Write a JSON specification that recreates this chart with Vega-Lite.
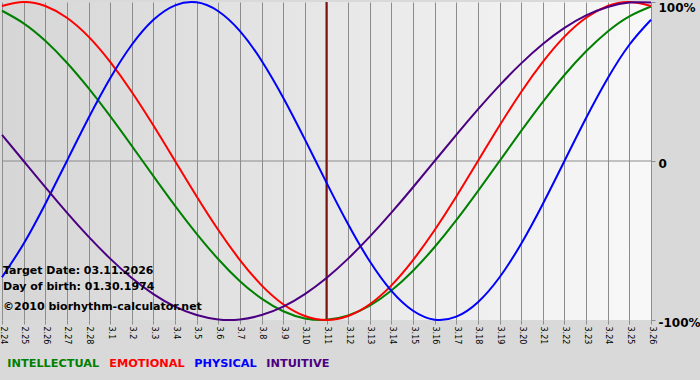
{
  "$schema": "https://vega.github.io/schema/vega-lite/v6.json",
  "width": 649,
  "height": 318,
  "autosize": {"type": "none"},
  "padding": {"left": 2, "top": 2, "right": 49, "bottom": 60},
  "background": "#d9d9d9",
  "view": {"stroke": null, "fill": {"gradient": "linear", "x1": 0, "y1": 0, "x2": 1, "y2": 0, "stops": [{"offset": 0, "color": "#d6d6d6"}, {"offset": 1, "color": "#f8f8f8"}]}},
  "config": {"font": "DejaVu Sans"},
  "layer": [
    {
      "data": {"values": [{}]},
      "mark": {"type": "rule", "color": "#8c8c8c", "strokeWidth": 1},
      "encoding": {"y": {"datum": 0, "type": "quantitative"}}
    },
    {
      "data": {"values": [{}]},
      "mark": {"type": "rule", "color": "#7a1212", "strokeWidth": 2},
      "encoding": {"x": {"datum": "3.11", "type": "ordinal"}}
    },
    {
      "data": {"values": [
        {"d":"2.24","s":"INTELLECTUAL","v":0.945},{"d":"2.24","s":"EMOTIONAL","v":0.975},{"d":"2.24","s":"PHYSICAL","v":-0.731},{"d":"2.24","s":"INTUITIVE","v":0.165},
        {"d":"2.25","s":"INTELLECTUAL","v":0.866},{"d":"2.25","s":"EMOTIONAL","v":1.0},{"d":"2.25","s":"PHYSICAL","v":-0.52},{"d":"2.25","s":"INTUITIVE","v":0.0},
        {"d":"2.26","s":"INTELLECTUAL","v":0.756},{"d":"2.26","s":"EMOTIONAL","v":0.975},{"d":"2.26","s":"PHYSICAL","v":-0.27},{"d":"2.26","s":"INTUITIVE","v":-0.165},
        {"d":"2.27","s":"INTELLECTUAL","v":0.618},{"d":"2.27","s":"EMOTIONAL","v":0.901},{"d":"2.27","s":"PHYSICAL","v":0.0},{"d":"2.27","s":"INTUITIVE","v":-0.325},
        {"d":"2.28","s":"INTELLECTUAL","v":0.458},{"d":"2.28","s":"EMOTIONAL","v":0.782},{"d":"2.28","s":"PHYSICAL","v":0.27},{"d":"2.28","s":"INTUITIVE","v":-0.476},
        {"d":"3.1","s":"INTELLECTUAL","v":0.282},{"d":"3.1","s":"EMOTIONAL","v":0.623},{"d":"3.1","s":"PHYSICAL","v":0.52},{"d":"3.1","s":"INTUITIVE","v":-0.614},
        {"d":"3.2","s":"INTELLECTUAL","v":0.095},{"d":"3.2","s":"EMOTIONAL","v":0.434},{"d":"3.2","s":"PHYSICAL","v":0.731},{"d":"3.2","s":"INTUITIVE","v":-0.736},
        {"d":"3.3","s":"INTELLECTUAL","v":-0.095},{"d":"3.3","s":"EMOTIONAL","v":0.223},{"d":"3.3","s":"PHYSICAL","v":0.888},{"d":"3.3","s":"INTUITIVE","v":-0.837},
        {"d":"3.4","s":"INTELLECTUAL","v":-0.282},{"d":"3.4","s":"EMOTIONAL","v":0.0},{"d":"3.4","s":"PHYSICAL","v":0.979},{"d":"3.4","s":"INTUITIVE","v":-0.916},
        {"d":"3.5","s":"INTELLECTUAL","v":-0.458},{"d":"3.5","s":"EMOTIONAL","v":-0.223},{"d":"3.5","s":"PHYSICAL","v":0.998},{"d":"3.5","s":"INTUITIVE","v":-0.969},
        {"d":"3.6","s":"INTELLECTUAL","v":-0.618},{"d":"3.6","s":"EMOTIONAL","v":-0.434},{"d":"3.6","s":"PHYSICAL","v":0.942},{"d":"3.6","s":"INTUITIVE","v":-0.997},
        {"d":"3.7","s":"INTELLECTUAL","v":-0.756},{"d":"3.7","s":"EMOTIONAL","v":-0.623},{"d":"3.7","s":"PHYSICAL","v":0.817},{"d":"3.7","s":"INTUITIVE","v":-0.997},
        {"d":"3.8","s":"INTELLECTUAL","v":-0.866},{"d":"3.8","s":"EMOTIONAL","v":-0.782},{"d":"3.8","s":"PHYSICAL","v":0.631},{"d":"3.8","s":"INTUITIVE","v":-0.969},
        {"d":"3.9","s":"INTELLECTUAL","v":-0.945},{"d":"3.9","s":"EMOTIONAL","v":-0.901},{"d":"3.9","s":"PHYSICAL","v":0.398},{"d":"3.9","s":"INTUITIVE","v":-0.916},
        {"d":"3.10","s":"INTELLECTUAL","v":-0.99},{"d":"3.10","s":"EMOTIONAL","v":-0.975},{"d":"3.10","s":"PHYSICAL","v":0.136},{"d":"3.10","s":"INTUITIVE","v":-0.837},
        {"d":"3.11","s":"INTELLECTUAL","v":-0.999},{"d":"3.11","s":"EMOTIONAL","v":-1.0},{"d":"3.11","s":"PHYSICAL","v":-0.136},{"d":"3.11","s":"INTUITIVE","v":-0.736},
        {"d":"3.12","s":"INTELLECTUAL","v":-0.972},{"d":"3.12","s":"EMOTIONAL","v":-0.975},{"d":"3.12","s":"PHYSICAL","v":-0.398},{"d":"3.12","s":"INTUITIVE","v":-0.614},
        {"d":"3.13","s":"INTELLECTUAL","v":-0.91},{"d":"3.13","s":"EMOTIONAL","v":-0.901},{"d":"3.13","s":"PHYSICAL","v":-0.631},{"d":"3.13","s":"INTUITIVE","v":-0.476},
        {"d":"3.14","s":"INTELLECTUAL","v":-0.815},{"d":"3.14","s":"EMOTIONAL","v":-0.782},{"d":"3.14","s":"PHYSICAL","v":-0.817},{"d":"3.14","s":"INTUITIVE","v":-0.325},
        {"d":"3.15","s":"INTELLECTUAL","v":-0.69},{"d":"3.15","s":"EMOTIONAL","v":-0.623},{"d":"3.15","s":"PHYSICAL","v":-0.942},{"d":"3.15","s":"INTUITIVE","v":-0.165},
        {"d":"3.16","s":"INTELLECTUAL","v":-0.541},{"d":"3.16","s":"EMOTIONAL","v":-0.434},{"d":"3.16","s":"PHYSICAL","v":-0.998},{"d":"3.16","s":"INTUITIVE","v":0.0},
        {"d":"3.17","s":"INTELLECTUAL","v":-0.372},{"d":"3.17","s":"EMOTIONAL","v":-0.223},{"d":"3.17","s":"PHYSICAL","v":-0.979},{"d":"3.17","s":"INTUITIVE","v":0.165},
        {"d":"3.18","s":"INTELLECTUAL","v":-0.189},{"d":"3.18","s":"EMOTIONAL","v":0.0},{"d":"3.18","s":"PHYSICAL","v":-0.888},{"d":"3.18","s":"INTUITIVE","v":0.325},
        {"d":"3.19","s":"INTELLECTUAL","v":0.0},{"d":"3.19","s":"EMOTIONAL","v":0.223},{"d":"3.19","s":"PHYSICAL","v":-0.731},{"d":"3.19","s":"INTUITIVE","v":0.476},
        {"d":"3.20","s":"INTELLECTUAL","v":0.189},{"d":"3.20","s":"EMOTIONAL","v":0.434},{"d":"3.20","s":"PHYSICAL","v":-0.52},{"d":"3.20","s":"INTUITIVE","v":0.614},
        {"d":"3.21","s":"INTELLECTUAL","v":0.372},{"d":"3.21","s":"EMOTIONAL","v":0.623},{"d":"3.21","s":"PHYSICAL","v":-0.27},{"d":"3.21","s":"INTUITIVE","v":0.736},
        {"d":"3.22","s":"INTELLECTUAL","v":0.541},{"d":"3.22","s":"EMOTIONAL","v":0.782},{"d":"3.22","s":"PHYSICAL","v":0.0},{"d":"3.22","s":"INTUITIVE","v":0.837},
        {"d":"3.23","s":"INTELLECTUAL","v":0.69},{"d":"3.23","s":"EMOTIONAL","v":0.901},{"d":"3.23","s":"PHYSICAL","v":0.27},{"d":"3.23","s":"INTUITIVE","v":0.916},
        {"d":"3.24","s":"INTELLECTUAL","v":0.815},{"d":"3.24","s":"EMOTIONAL","v":0.975},{"d":"3.24","s":"PHYSICAL","v":0.52},{"d":"3.24","s":"INTUITIVE","v":0.969},
        {"d":"3.25","s":"INTELLECTUAL","v":0.91},{"d":"3.25","s":"EMOTIONAL","v":1.0},{"d":"3.25","s":"PHYSICAL","v":0.731},{"d":"3.25","s":"INTUITIVE","v":0.997},
        {"d":"3.26","s":"INTELLECTUAL","v":0.972},{"d":"3.26","s":"EMOTIONAL","v":0.975},{"d":"3.26","s":"PHYSICAL","v":0.888},{"d":"3.26","s":"INTUITIVE","v":0.997}
      ]},
      "mark": {"type": "line", "strokeWidth": 2, "interpolate": "natural"},
      "encoding": {
        "x": {
          "field": "d", "type": "ordinal",
          "scale": {"type": "point", "padding": 0, "domain": ["2.24","2.25","2.26","2.27","2.28","3.1","3.2","3.3","3.4","3.5","3.6","3.7","3.8","3.9","3.10","3.11","3.12","3.13","3.14","3.15","3.16","3.17","3.18","3.19","3.20","3.21","3.22","3.23","3.24","3.25","3.26"]},
          "axis": {"title": null, "labelAngle": 90, "labelAlign": "left", "labelBaseline": "middle", "labelFont": "DejaVu Sans", "labelFontSize": 8, "labelColor": "#000000", "tickColor": "#8c8c8c", "tickSize": 4, "labelPadding": 2, "domain": false, "grid": true, "gridColor": "#8c8c8c", "gridOpacity": 1, "gridWidth": 1, "labelOverlap": false, "labelBound": false}
        },
        "y": {
          "field": "v", "type": "quantitative",
          "scale": {"domain": [-1, 1], "nice": false, "zero": false},
          "axis": {"orient": "right", "title": null, "values": [-1, 0, 1], "labelExpr": "datum.value == 1 ? '100%' : datum.value == 0 ? '0' : '-100%'", "labelFont": "DejaVu Sans", "labelFontWeight": "bold", "labelFontSize": 12, "labelColor": "#000000", "tickColor": "#8c8c8c", "tickSize": 4, "labelPadding": 3, "domain": false, "grid": false, "labelFlush": false, "labelBound": false, "labelOffset": {"condition": {"test": "datum.value == 1", "value": 5}, "value": 2}}
        },
        "color": {
          "field": "s", "type": "nominal",
          "scale": {"domain": ["INTELLECTUAL", "EMOTIONAL", "PHYSICAL", "INTUITIVE"], "range": ["#008000", "#ff0000", "#0000ff", "#4b0082"]},
          "legend": {"orient": "none", "legendX": 4, "legendY": 356, "direction": "horizontal", "title": null, "labelFont": "DejaVu Sans", "labelFontWeight": "bold", "labelFontSize": 11.3, "symbolOpacity": 0, "symbolSize": 0.01, "symbolStrokeWidth": 0, "labelOffset": -10, "columnPadding": 8, "padding": 0, "labelLimit": 200, "encode": {"labels": {"update": {"fill": {"scale": "color", "field": "value"}}}}}
        }
      }
    },
    {
      "data": {"values": [{"t": "Target Date: 03.11.2026"}]},
      "mark": {"type": "text", "align": "left", "baseline": "middle", "dx": 1, "font": "DejaVu Sans", "fontWeight": "bold", "fontSize": 11, "color": "#000000"},
      "encoding": {"x": {"datum": "2.24", "type": "ordinal"}, "y": {"datum": -0.692, "type": "quantitative"}, "text": {"field": "t"}}
    },
    {
      "data": {"values": [{"t": "Day of birth: 01.30.1974"}]},
      "mark": {"type": "text", "align": "left", "baseline": "middle", "dx": 1, "font": "DejaVu Sans", "fontWeight": "bold", "fontSize": 11, "color": "#000000"},
      "encoding": {"x": {"datum": "2.24", "type": "ordinal"}, "y": {"datum": -0.792, "type": "quantitative"}, "text": {"field": "t"}}
    },
    {
      "data": {"values": [{"t": "©2010 biorhythm-calculator.net"}]},
      "mark": {"type": "text", "align": "left", "baseline": "middle", "dx": 1, "font": "DejaVu Sans", "fontWeight": "bold", "fontSize": 11, "color": "#000000"},
      "encoding": {"x": {"datum": "2.24", "type": "ordinal"}, "y": {"datum": -0.918, "type": "quantitative"}, "text": {"field": "t"}}
    }
  ]
}
